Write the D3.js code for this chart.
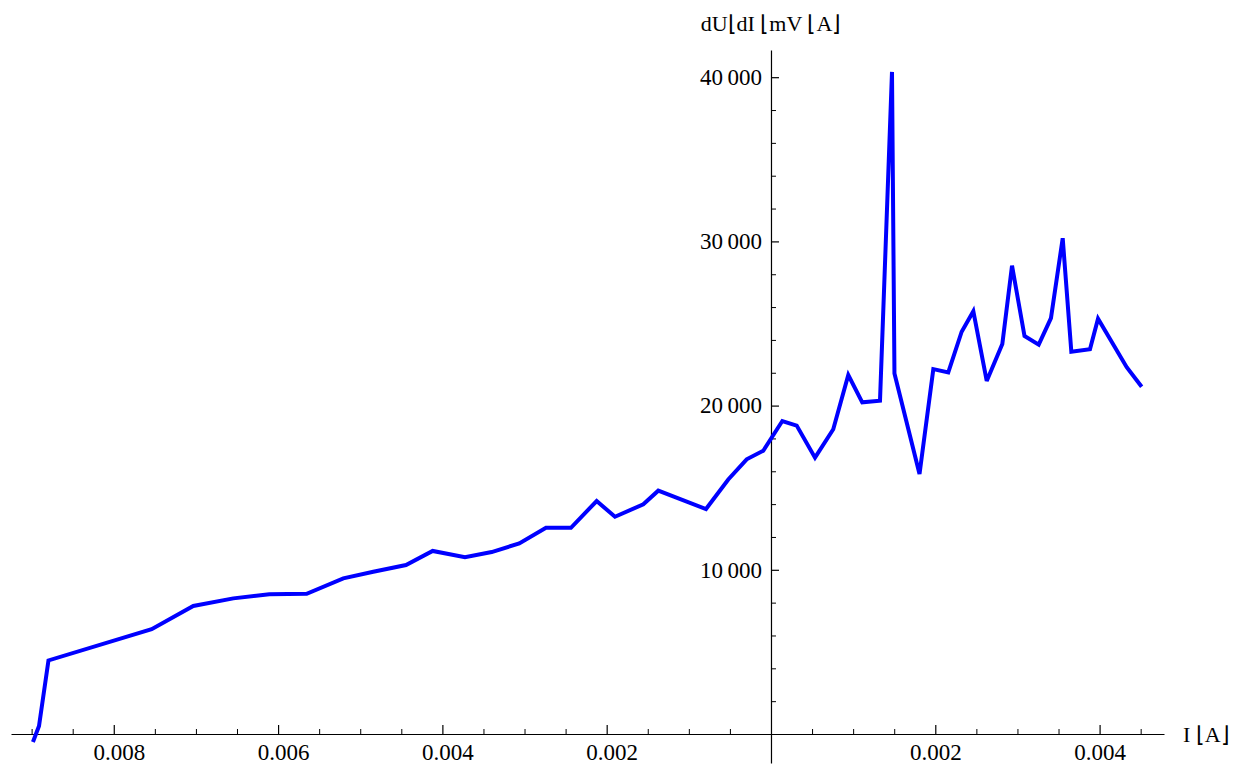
<!DOCTYPE html>
<html>
<head>
<meta charset="utf-8">
<script src="https://cdn.jsdelivr.net/npm/d3@7"></script>
<style>
  html, body { margin: 0; padding: 0; background: #fff; }
  svg { display: block; }
  text { font-family: "Liberation Serif", "Times New Roman", serif; fill: #000; }
</style>
</head>
<body>
<script>
// ---- data ----
const currentA = [
  -0.008984, -0.008910, -0.008795, -0.007539, -0.007032, -0.006545, -0.006107, -0.005652,
  -0.005206, -0.004841, -0.004443, -0.004118, -0.003725, -0.003400, -0.003064, -0.002739,
  -0.002435, -0.002122, -0.001899, -0.001554, -0.001372, -0.000791, -0.000520, -0.000296,
  -0.000094, 0.000138, 0.000313, 0.000536, 0.000758, 0.000941, 0.001111, 0.001327,
  0.001473, 0.001503, 0.001808, 0.001976, 0.002158, 0.002321, 0.002463, 0.002626,
  0.002816, 0.002934, 0.003086, 0.003259, 0.003408, 0.003551, 0.003656, 0.003883,
  0.003981, 0.004330, 0.004512
];
const dUdI = [
  -490, 490, 4480, 6380, 7800, 8260, 8510, 8540,
  9480, 9880, 10290, 11150, 10760, 11080, 11610, 12560,
  12560, 14190, 13230, 13990, 14820, 13700, 15500, 16730,
  17250, 19060, 18780, 16830, 18560, 21860, 20200, 20300,
  40320, 21950, 15830, 22220, 22020, 24500, 25750, 21500,
  23750, 28520, 24240, 23710, 25330, 30190, 23280, 23430,
  25290, 22340, 21150
];
const xMajorTicks = [-0.008, -0.006, -0.004, -0.002, 0.002, 0.004];
const xMinorTicks = [-0.009, -0.0085, -0.0075, -0.007, -0.0065, -0.0055, -0.005, -0.0045,
  -0.0035, -0.003, -0.0025, -0.0015, -0.001, -0.0005, 0.0005, 0.001, 0.0015, 0.0025, 0.003, 0.0035, 0.0045];
const yMajorTicks = [10000, 20000, 30000, 40000];
const yMinorTicks = [2000, 4000, 6000, 8000, 12000, 14000, 16000, 18000, 22000, 24000, 26000, 28000,
  32000, 34000, 36000, 38000];
const xTickLabels = ["0.008", "0.006", "0.004", "0.002", "0.002", "0.004"];
const yTickLabels = ["10\u2009000", "20\u2009000", "30\u2009000", "40\u2009000"];
const xAxisTitle = "I \u230AA\u230B";
const yAxisTitle = "dU\u230AdI \u230AmV \u230AA\u230B";

// ---- layout ----
const W = 1243, H = 770;
const svg = d3.select("body").append("svg").attr("width", W).attr("height", H);

const x = d3.scaleLinear().domain([-0.009251, 0.004784]).range([11, 1164]);
const y = d3.scaleLinear().domain([-1766, 41656]).range([763, 50]);

const x0 = x(0), y0 = y(0);

// x axis (minor ticks)
svg.append("g")
  .attr("transform", `translate(0,${y0})`)
  .call(d3.axisBottom(x).tickValues(xMinorTicks).tickSize(-5).tickSizeOuter(0).tickFormat(""))
  .call(g => g.select(".domain").remove());

// x axis (major ticks + labels)
const gx = svg.append("g")
  .attr("transform", `translate(0,${y0})`)
  .call(d3.axisBottom(x).tickValues(xMajorTicks).tickSize(-9).tickSizeOuter(0).tickPadding(10)
    .tickFormat((d, i) => xTickLabels[i]));
gx.select(".domain").attr("stroke", "#000").attr("stroke-width", 1.2);
gx.selectAll(".tick line").attr("stroke", "#000").attr("stroke-width", 1.2);
gx.selectAll(".tick text")
  .style("font-size", "23px")
  .style("font-family", "'Liberation Serif', 'Times New Roman', serif")
  .attr("fill", "#000")
  .attr("dx", d => d < 0 ? 5 : 0);

// y axis (minor ticks)
svg.append("g")
  .attr("transform", `translate(${x0},0)`)
  .call(d3.axisLeft(y).tickValues(yMinorTicks).tickSize(-5).tickSizeOuter(0).tickFormat(""))
  .call(g => g.select(".domain").remove());

// y axis (major ticks + labels)
const gy = svg.append("g")
  .attr("transform", `translate(${x0},0)`)
  .call(d3.axisLeft(y).tickValues(yMajorTicks).tickSize(-8).tickSizeOuter(0).tickPadding(9)
    .tickFormat((d, i) => yTickLabels[i]));
gy.select(".domain").attr("stroke", "#000").attr("stroke-width", 1.2);
gy.selectAll(".tick line").attr("stroke", "#000").attr("stroke-width", 1.2);
gy.selectAll(".tick text")
  .style("font-size", "23px")
  .style("font-family", "'Liberation Serif', 'Times New Roman', serif")
  .attr("fill", "#000");

svg.selectAll(".tick line").attr("stroke", "#000");

// axis titles
svg.append("text")
  .attr("x", 1183).attr("y", y0)
  .attr("dy", "0.35em")
  .style("font-size", "22px")
  .text(xAxisTitle);

svg.append("text")
  .attr("x", x0).attr("y", 31)
  .attr("text-anchor", "middle")
  .style("font-size", "22px")
  .text(yAxisTitle);

// data line
const pts = currentA.map((c, i) => [c, dUdI[i]]);
svg.append("path")
  .datum(pts)
  .attr("fill", "none")
  .attr("stroke", "#0000ff")
  .attr("stroke-width", 4)
  .attr("stroke-linejoin", "miter")
  .attr("stroke-miterlimit", 3)
  .attr("d", d3.line().x(d => x(d[0])).y(d => y(d[1])));
</script>
</body>
</html>
